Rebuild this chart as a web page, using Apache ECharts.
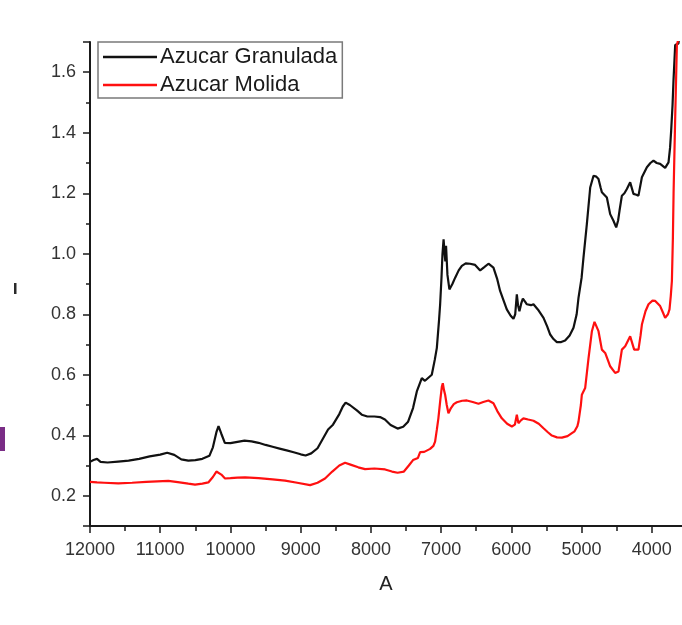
<!DOCTYPE html>
<html>
<head>
<meta charset="utf-8">
<title>Azucar Granulada / Azucar Molida</title>
<script src="https://cdn.jsdelivr.net/npm/echarts@6/dist/echarts.min.js"></script>
<style>
  html, body { margin: 0; padding: 0; background: #ffffff; }
  #chart { width: 682px; height: 625px; }
</style>
</head>
<body>
<div id="chart"></div>
<script>
// Wavenumber axis values and absorbance readings for each sample
const granuladaX = [12000, 11950, 11900, 11850, 11750, 11600, 11450, 11300, 11150, 11000, 10900, 10800, 10700, 10600, 10500, 10400, 10300, 10250, 10200, 10170, 10130, 10080, 10000, 9900, 9800, 9700, 9600, 9500, 9400, 9300, 9200, 9100, 9000, 8930, 8850, 8760, 8680, 8610, 8540, 8450, 8400, 8360, 8300, 8200, 8130, 8050, 7950, 7870, 7800, 7720, 7620, 7540, 7470, 7400, 7346, 7275, 7230, 7204, 7133, 7090, 7061, 7030, 7014, 6995, 6981, 6965, 6950, 6940, 6930, 6910, 6882, 6840, 6800, 6750, 6705, 6650, 6587, 6516, 6444, 6390, 6326, 6255, 6200, 6160, 6110, 6065, 6010, 5970, 5945, 5922, 5905, 5885, 5860, 5836, 5800, 5779, 5720, 5685, 5620, 5542, 5490, 5447, 5400, 5352, 5290, 5234, 5170, 5115, 5070, 5044, 5000, 4973, 4925, 4877, 4830, 4790, 4759, 4730, 4711, 4640, 4593, 4546, 4507, 4480, 4460, 4426, 4390, 4355, 4308, 4261, 4220, 4190, 4141, 4070, 4020, 3976, 3930, 3881, 3810, 3762, 3740, 3724, 3705, 3691, 3667, 3640, 3620, 3600];
const granuladaY = [0.312, 0.318, 0.322, 0.312, 0.310, 0.313, 0.316, 0.322, 0.330, 0.336, 0.342, 0.335, 0.320, 0.316, 0.318, 0.322, 0.332, 0.360, 0.410, 0.430, 0.405, 0.375, 0.374, 0.378, 0.382, 0.380, 0.375, 0.368, 0.362, 0.356, 0.350, 0.344, 0.337, 0.333, 0.340, 0.357, 0.390, 0.419, 0.435, 0.470, 0.495, 0.508, 0.500, 0.482, 0.468, 0.462, 0.462, 0.460, 0.452, 0.434, 0.422, 0.428, 0.445, 0.490, 0.545, 0.589, 0.580, 0.578, 0.600, 0.650, 0.689, 0.780, 0.833, 0.920, 0.998, 1.048, 1.000, 0.975, 1.026, 0.930, 0.882, 0.900, 0.921, 0.945, 0.960, 0.968, 0.967, 0.963, 0.945, 0.955, 0.967, 0.954, 0.915, 0.877, 0.845, 0.816, 0.795, 0.785, 0.800, 0.866, 0.830, 0.810, 0.835, 0.852, 0.840, 0.833, 0.830, 0.833, 0.815, 0.788, 0.760, 0.733, 0.718, 0.708, 0.708, 0.713, 0.730, 0.755, 0.800, 0.854, 0.920, 0.987, 1.098, 1.219, 1.258, 1.255, 1.247, 1.220, 1.203, 1.186, 1.131, 1.109, 1.087, 1.110, 1.142, 1.192, 1.200, 1.214, 1.236, 1.198, 1.195, 1.192, 1.253, 1.286, 1.300, 1.308, 1.300, 1.297, 1.284, 1.302, 1.350, 1.408, 1.490, 1.573, 1.690, 1.690, 1.695, 1.750];

const molidaX = [12000, 11900, 11800, 11597, 11400, 11200, 10885, 10750, 10600, 10504, 10400, 10315, 10250, 10200, 10172, 10130, 10077, 10000, 9900, 9792, 9600, 9400, 9222, 9050, 8866, 8760, 8653, 8550, 8450, 8368, 8280, 8180, 8083, 7950, 7798, 7700, 7620, 7530, 7460, 7400, 7330, 7299, 7240, 7157, 7110, 7086, 7060, 7039, 7010, 6990, 6976, 6960, 6943, 6920, 6896, 6860, 6820, 6777, 6700, 6634, 6550, 6468, 6400, 6326, 6255, 6200, 6136, 6060, 5993, 5950, 5922, 5900, 5885, 5860, 5828, 5760, 5685, 5610, 5542, 5480, 5423, 5350, 5281, 5200, 5138, 5100, 5060, 5044, 5010, 4996, 4949, 4901, 4853, 4816, 4790, 4759, 4711, 4664, 4620, 4593, 4522, 4474, 4426, 4379, 4308, 4251, 4190, 4160, 4141, 4090, 4047, 3990, 3951, 3881, 3840, 3810, 3770, 3748, 3730, 3714, 3700, 3690, 3667, 3643, 3610];
const molidaY = [0.246, 0.244, 0.243, 0.241, 0.243, 0.246, 0.249, 0.245, 0.240, 0.237, 0.240, 0.244, 0.262, 0.280, 0.285, 0.270, 0.257, 0.258, 0.260, 0.261, 0.258, 0.254, 0.250, 0.243, 0.235, 0.243, 0.257, 0.280, 0.300, 0.309, 0.302, 0.294, 0.288, 0.290, 0.287, 0.280, 0.276, 0.280, 0.300, 0.318, 0.325, 0.344, 0.345, 0.355, 0.365, 0.379, 0.420, 0.456, 0.520, 0.560, 0.572, 0.550, 0.534, 0.500, 0.473, 0.490, 0.503, 0.509, 0.514, 0.515, 0.510, 0.504, 0.510, 0.515, 0.506, 0.480, 0.456, 0.438, 0.429, 0.435, 0.468, 0.440, 0.434, 0.450, 0.456, 0.452, 0.448, 0.438, 0.423, 0.410, 0.399, 0.393, 0.392, 0.397, 0.407, 0.413, 0.430, 0.445, 0.500, 0.534, 0.556, 0.655, 0.744, 0.775, 0.770, 0.744, 0.683, 0.672, 0.645, 0.628, 0.606, 0.611, 0.683, 0.694, 0.727, 0.683, 0.683, 0.730, 0.766, 0.810, 0.833, 0.845, 0.844, 0.827, 0.805, 0.788, 0.800, 0.816, 0.860, 0.910, 1.050, 1.200, 1.450, 1.690, 1.720];

const seriesNames = ['Azucar Granulada', 'Azucar Molida'];
const xAxisTitle = 'A';
// Labelled wavenumber ticks
const xTickValues = [12000, 11000, 10000, 9000, 8000, 7000, 6000, 5000, 4000];

const pairs = (xs, ys) => xs.map((x, i) => [x, ys[i]]);

const FONT = '"Liberation Sans", Arial, sans-serif';
const AXIS_COLOR = '#1a1a1a';

const chart = echarts.init(document.getElementById('chart'), null, { renderer: 'canvas' });

chart.setOption({
  backgroundColor: '#ffffff',
  animation: false,
  grid: { left: 90, top: 42, right: 0, height: 484, containLabel: false },
  legend: {
    orient: 'vertical',
    left: 98,
    top: 42,
    padding: [4, 5, 2, 5],
    itemGap: 6,
    itemWidth: 54,
    itemHeight: 2.5,
    borderColor: '#7a7a7a',
    borderWidth: 1.5,
    backgroundColor: '#ffffff',
    selectedMode: false,
    textStyle: { fontFamily: FONT, fontSize: 22, color: '#1a1a1a', padding: [0, 0, 0, -2] },
    data: seriesNames.map(n => ({ name: n, icon: 'rect' }))
  },
  xAxis: {
    type: 'value',
    inverse: true,
    min: 3570,
    max: 12000,
    splitNumber: 9,
    minInterval: 1000,
    maxInterval: 1000,
    name: xAxisTitle,
    nameLocation: 'middle',
    nameGap: 48,
    nameTextStyle: { fontFamily: FONT, fontSize: 20, color: '#222' },
    axisLine: { show: true, onZero: false, lineStyle: { color: AXIS_COLOR, width: 2 } },
    axisTick: { show: true, inside: false, length: 7, customValues: xTickValues, lineStyle: { color: AXIS_COLOR, width: 1.5 } },
    minorTick: { show: true, splitNumber: 2, length: 5, lineStyle: { color: AXIS_COLOR, width: 1.5 } },
    axisLabel: {
      fontFamily: FONT, fontSize: 18, color: '#333', margin: 15,
      customValues: xTickValues,
      formatter: v => String(Math.round(v))
    },
    splitLine: { show: false }
  },
  yAxis: {
    type: 'value',
    min: 0.1,
    max: 1.7,
    splitNumber: 8,
    minInterval: 0.2,
    maxInterval: 0.2,
    axisLine: { show: true, onZero: false, lineStyle: { color: AXIS_COLOR, width: 2 } },
    axisTick: { show: true, inside: false, length: 7, lineStyle: { color: AXIS_COLOR, width: 1.5 } },
    minorTick: { show: true, splitNumber: 2, length: 4, lineStyle: { color: AXIS_COLOR, width: 1.5 } },
    axisLabel: {
      fontFamily: FONT, fontSize: 18, color: '#333', margin: 14,
      showMinLabel: false, showMaxLabel: false,
      formatter: v => v.toFixed(1)
    },
    splitLine: { show: false }
  },
  series: [
    {
      name: seriesNames[0],
      type: 'line',
      data: pairs(granuladaX, granuladaY),
      symbol: 'none',
      clip: true,
      color: '#111111',
      lineStyle: { color: '#111111', width: 2.2 }
    },
    {
      name: seriesNames[1],
      type: 'line',
      data: pairs(molidaX, molidaY),
      symbol: 'none',
      clip: true,
      color: '#ff1010',
      lineStyle: { color: '#ff1010', width: 2.2 }
    }
  ],
  graphic: [
    { type: 'rect', left: 14, top: 283, shape: { width: 2.5, height: 11 }, style: { fill: '#2a2a2a' } },
    { type: 'rect', left: 0, top: 427, shape: { width: 5, height: 24 }, style: { fill: '#7a2d86' } }
  ]
});
</script>
</body>
</html>
